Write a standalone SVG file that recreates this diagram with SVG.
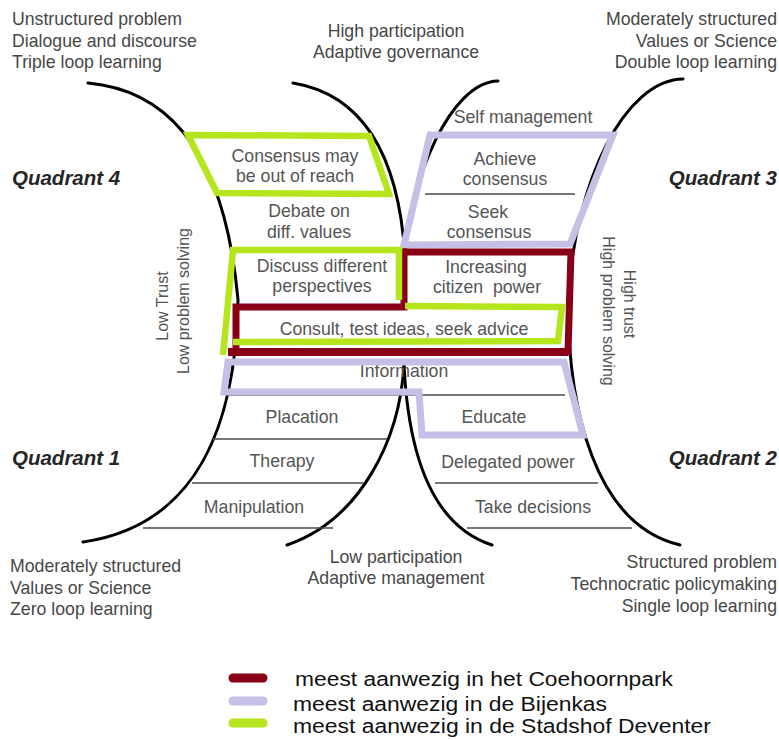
<svg xmlns="http://www.w3.org/2000/svg" width="779" height="740" viewBox="0 0 779 740">
<style>
  .curve{fill:none;stroke:#000;stroke-width:3;stroke-linecap:round}
  .div{fill:none;stroke:#4a4a4a;stroke-width:1.6}
  .green{fill:none;stroke:#b5e61d;stroke-width:6.5;stroke-linejoin:miter}
  .lav{fill:none;stroke:#c8bfe7;stroke-width:7;stroke-linejoin:miter}
  .red{fill:none;stroke:#880015;stroke-width:7;stroke-linejoin:miter}
  .corner{font-family:"Liberation Sans",Arial,sans-serif;font-size:17.7px;fill:#474747}
  .lbl{font-family:"Liberation Sans",Arial,sans-serif;font-size:17.7px;fill:#555;text-anchor:middle}
  .quad{font-family:"Liberation Sans",Arial,sans-serif;font-size:20.5px;font-weight:bold;font-style:italic;fill:#262626}
  .rot{font-family:"Liberation Sans",Arial,sans-serif;font-size:16px;fill:#555;text-anchor:middle}
  .leg{font-family:"Liberation Sans",Arial,sans-serif;font-size:20px;fill:#111}
</style>
<rect width="779" height="740" fill="#fff"/>

<g id="connectors">
  <!-- left outer boundary -->
  <path class="curve" d="M88,83 Q220,95 238,300 C236,420 200,525 83,542"/>
  <!-- center-left (Q4 right) -->
  <path class="curve" d="M293,83 Q395,100 405,256"/>
  <!-- center-right (Q3 left) -->
  <path class="curve" d="M498,81 C450,82 410,180 405,256"/>
  <!-- Q1 right -->
  <path class="curve" d="M404,364 C400,440 360,520 287,545"/>
  <!-- Q2 left -->
  <path class="curve" d="M404,364 C408,450 430,525 492,545"/>
  <!-- right outer boundary -->
  <path class="curve" d="M683,79 C625,80 575,180 568,300 C568,410 595,525 680,545"/>
  <!-- divider lines -->
  <line class="div" x1="425" y1="194" x2="575" y2="194"/>
  <line class="div" x1="227" y1="395" x2="565" y2="395"/>
  <line class="div" x1="213" y1="439" x2="387" y2="439"/>
  <line class="div" x1="192" y1="483" x2="363" y2="483"/>
  <line class="div" x1="143" y1="528" x2="333" y2="528"/>
  <line class="div" x1="435" y1="483" x2="598" y2="483"/>
  <line class="div" x1="467" y1="528" x2="632" y2="528"/>
</g>

<g id="corner-texts">
  <text class="corner" x="12" y="25">Unstructured problem</text>
  <text class="corner" x="12" y="46.5">Dialogue and discourse</text>
  <text class="corner" x="12" y="68">Triple loop learning</text>
  <text class="corner" x="396" y="37" text-anchor="middle">High participation</text>
  <text class="corner" x="396" y="58" text-anchor="middle">Adaptive governance</text>
  <text class="corner" x="777" y="25" text-anchor="end">Moderately structured</text>
  <text class="corner" x="777" y="47" text-anchor="end">Values or Science</text>
  <text class="corner" x="777" y="68" text-anchor="end">Double loop learning</text>
  <text class="corner" x="10" y="572">Moderately structured</text>
  <text class="corner" x="10" y="593.5">Values or Science</text>
  <text class="corner" x="10" y="615">Zero loop learning</text>
  <text class="corner" x="396" y="563" text-anchor="middle">Low participation</text>
  <text class="corner" x="396" y="584" text-anchor="middle">Adaptive management</text>
  <text class="corner" x="777" y="568" text-anchor="end">Structured problem</text>
  <text class="corner" x="777" y="590" text-anchor="end">Technocratic policymaking</text>
  <text class="corner" x="777" y="612" text-anchor="end">Single loop learning</text>
</g>

<g id="quadrants">
  <text class="quad" x="12" y="185">Quadrant 4</text>
  <text class="quad" x="777" y="185" text-anchor="end">Quadrant 3</text>
  <text class="quad" x="12" y="465">Quadrant 1</text>
  <text class="quad" x="777" y="465" text-anchor="end">Quadrant 2</text>
</g>

<g id="axes">
  <text class="rot" transform="translate(168,306) rotate(-90)">Low Trust</text>
  <text class="rot" transform="translate(189,301) rotate(-90)">Low problem solving</text>
  <text class="rot" transform="translate(624,304) rotate(90)">High trust</text>
  <text class="rot" transform="translate(603,311) rotate(90)">High problem solving</text>
</g>

<g id="node-consensus-out-of-reach">
  <text class="lbl" x="295" y="162">Consensus may</text>
  <text class="lbl" x="295" y="182">be out of reach</text>
</g>
<g id="node-debate">
  <text class="lbl" x="309" y="217">Debate on</text>
  <text class="lbl" x="309" y="238">diff. values</text>
</g>
<g id="node-self-management">
  <text class="lbl" x="523" y="123">Self management</text>
</g>
<g id="node-achieve-consensus">
  <text class="lbl" x="505" y="165">Achieve</text>
  <text class="lbl" x="505" y="185">consensus</text>
</g>
<g id="node-seek-consensus">
  <text class="lbl" x="488" y="218">Seek</text>
  <text class="lbl" x="489" y="238">consensus</text>
</g>
<g id="node-discuss">
  <text class="lbl" x="322" y="272">Discuss different</text>
  <text class="lbl" x="322" y="292">perspectives</text>
</g>
<g id="node-increasing">
  <text class="lbl" x="486" y="273">Increasing</text>
  <text class="lbl" x="487" y="293" xml:space="preserve">citizen  power</text>
</g>
<g id="node-consult">
  <text class="lbl" x="404" y="335">Consult, test ideas, seek advice</text>
</g>
<g id="node-information">
  <text class="lbl" x="404" y="377">Information</text>
</g>
<g id="node-placation">
  <text class="lbl" x="302" y="423">Placation</text>
</g>
<g id="node-educate">
  <text class="lbl" x="494" y="423">Educate</text>
</g>
<g id="node-therapy">
  <text class="lbl" x="282" y="467">Therapy</text>
</g>
<g id="node-delegated">
  <text class="lbl" x="508" y="468">Delegated power</text>
</g>
<g id="node-manipulation">
  <text class="lbl" x="254" y="513">Manipulation</text>
</g>
<g id="node-take-decisions">
  <text class="lbl" x="533" y="513">Take decisions</text>
</g>

<g id="highlights">
  <polygon class="lav" points="430,135 613,135 570,244 404,245"/>
  <polygon class="lav" points="228,362 564,362 583,435 422,435 419,392 224,392"/>
  <polygon class="red" points="236,307 404,307 404,252 571,252 568,352 236,352"/>
  <line x1="228" y1="352" x2="568" y2="352" stroke="#880015" stroke-width="8"/>
  <polygon class="green" points="188,135 369,136 389,194 217,193"/>
  <polyline class="green" points="399,300 399,250 233,250 223,355"/>
  <polyline class="green" points="405,306 562,307 558,341 233,342"/>
</g>

<g id="legend">
  <line x1="233" y1="678" x2="263" y2="678" stroke="#880015" stroke-width="9" stroke-linecap="round"/>
  <line x1="233" y1="701" x2="263" y2="701" stroke="#c8bfe7" stroke-width="9" stroke-linecap="round"/>
  <line x1="233" y1="723" x2="263" y2="723" stroke="#b5e61d" stroke-width="9" stroke-linecap="round"/>
  <text class="leg" x="295" y="686" textLength="378" lengthAdjust="spacingAndGlyphs">meest aanwezig in het Coehoornpark</text>
  <text class="leg" x="293" y="711" textLength="314" lengthAdjust="spacingAndGlyphs">meest aanwezig in de Bijenkas</text>
  <text class="leg" x="293" y="733" textLength="418" lengthAdjust="spacingAndGlyphs">meest aanwezig in de Stadshof Deventer</text>
</g>
</svg>
